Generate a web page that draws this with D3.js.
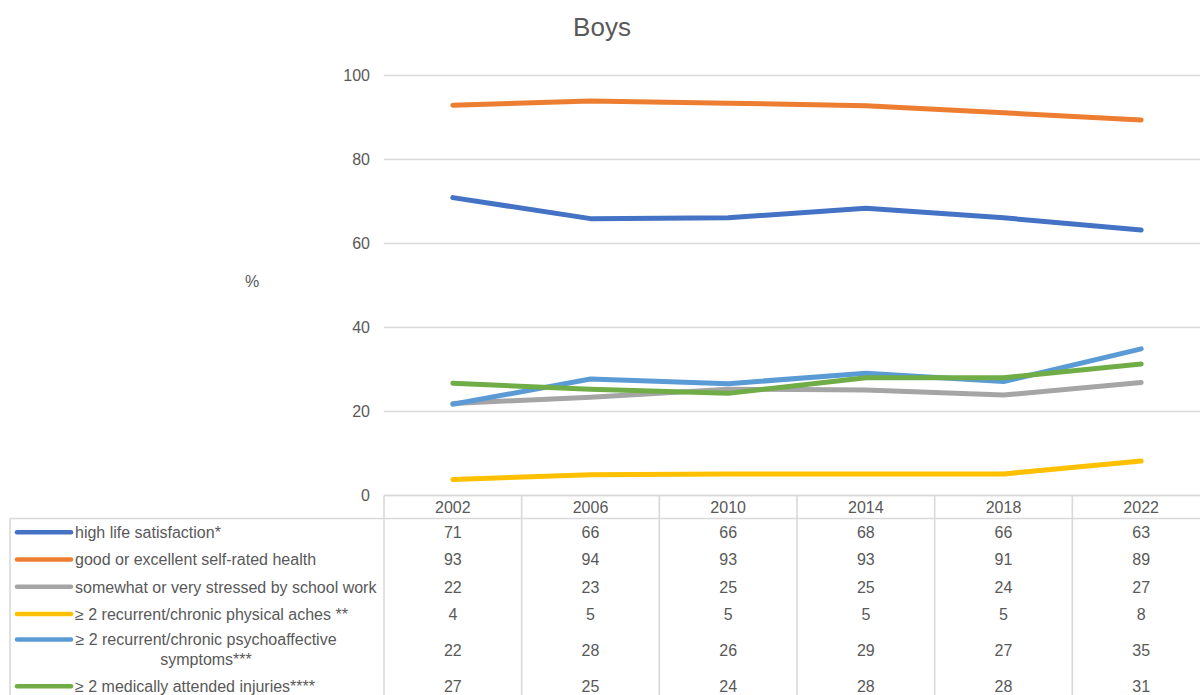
<!DOCTYPE html>
<html>
<head>
<meta charset="utf-8">
<script src="https://cdn.jsdelivr.net/npm/d3@7"></script>
<style>
  html, body { margin: 0; padding: 0; background: #fff; }
  svg { display: block; font-family: "Liberation Sans", Arial, sans-serif; }
</style>
</head>
<body>
<svg id="chart" width="1200" height="695"></svg>
<script>
// ---- data ----
const years = ["2002", "2006", "2010", "2014", "2018", "2022"];
const seriesNames = [
  "high life satisfaction*",
  "good or excellent self-rated health",
  "somewhat or very stressed by school work",
  "≥ 2 recurrent/chronic physical aches **",
  "≥ 2 recurrent/chronic psychoaffective symptoms***",
  "≥ 2 medically attended injuries****"
];
const seriesColors = ["#4472C4", "#ED7D31", "#A5A5A5", "#FFC000", "#5B9BD5", "#70AD47"];
// values as plotted
const lifeSatisfaction   = [70.8, 65.8, 66.0, 68.3, 66.0, 63.1];
const selfRatedHealth    = [92.8, 93.8, 93.3, 92.7, 91.0, 89.3];
const schoolStress       = [21.8, 23.3, 25.2, 25.0, 23.8, 26.8];
const physicalAches      = [3.7, 4.8, 5.0, 5.0, 5.0, 8.1];
const psychoSymptoms     = [21.6, 27.6, 26.5, 29.0, 27.0, 34.8];
const injuries           = [26.6, 25.2, 24.2, 27.9, 27.9, 31.2];
// values as printed in the data table
const tableLife     = [71, 66, 66, 68, 66, 63];
const tableHealth   = [93, 94, 93, 93, 91, 89];
const tableStress   = [22, 23, 25, 25, 24, 27];
const tableAches    = [4, 5, 5, 5, 5, 8];
const tablePsycho   = [22, 28, 26, 29, 27, 35];
const tableInjuries = [27, 25, 24, 28, 28, 31];
const yTicks = [0, 20, 40, 60, 80, 100];
const titleText = "Boys";
const yAxisLabel = "%";
const wrappedLabel = ["≥ 2 recurrent/chronic psychoaffective", "symptoms***"];

const lineValues = [lifeSatisfaction, selfRatedHealth, schoolStress, physicalAches, psychoSymptoms, injuries];
const tableValues = [tableLife, tableHealth, tableStress, tableAches, tablePsycho, tableInjuries];

// ---- layout ----
const svg = d3.select("#chart");
const textColor = "#595959";
const gridColor = "#D9D9D9";
const fs = 16;
const plotLeft = 384, plotRight = 1210, plotTop = 75, plotBottom = 495;

const x = d3.scaleBand().domain(years).range([plotLeft, plotRight]);
const y = d3.scaleLinear().domain([0, 100]).range([plotBottom, plotTop]);
const cx = d => x(d) + x.bandwidth() / 2;

// title
svg.append("text")
  .attr("x", 602).attr("y", 36)
  .attr("text-anchor", "middle")
  .attr("font-size", 26)
  .attr("fill", textColor)
  .text(titleText);

// y axis label
svg.append("text")
  .attr("x", 252).attr("y", 287)
  .attr("text-anchor", "middle")
  .attr("font-size", fs)
  .attr("fill", textColor)
  .text(yAxisLabel);

// gridlines + tick labels via axis
const yAxis = d3.axisLeft(y).tickValues(yTicks).tickSize(-(plotRight - plotLeft)).tickPadding(14).tickFormat(d3.format("d"));
const gAxis = svg.append("g").attr("transform", `translate(${plotLeft},0)`).call(yAxis);
gAxis.select(".domain").remove();
gAxis.selectAll(".tick line").attr("stroke", gridColor).attr("stroke-width", 1.3);
gAxis.selectAll(".tick text")
  .attr("fill", textColor)
  .attr("font-size", fs)
  .attr("font-family", "Liberation Sans, Arial, sans-serif")
  .attr("x", -14);

// lines
const line = d3.line().x((d, i) => cx(years[i])).y(d => y(d));
lineValues.forEach((vals, si) => {
  svg.append("path")
    .datum(vals)
    .attr("d", line)
    .attr("fill", "none")
    .attr("stroke", seriesColors[si])
    .attr("stroke-width", 5)
    .attr("stroke-linecap", "round")
    .attr("stroke-linejoin", "round");
});

// ---- data table ----
const headerTop = 495.5, headerBottom = 518.5;
const tableLeft = 10;
const rowHeights = [27.3, 27.3, 27.3, 27.3, 44.8, 27.3];
const rowTops = [];
let acc = headerBottom;
rowHeights.forEach(h => { rowTops.push(acc); acc += h; });
const tableBottom = acc;
const grid = svg.append("g").attr("stroke", gridColor).attr("stroke-width", 1.6).attr("fill", "none");

grid.append("line").attr("x1", plotLeft).attr("x2", plotRight).attr("y1", headerTop).attr("y2", headerTop);
grid.append("line").attr("x1", tableLeft).attr("x2", plotRight).attr("y1", headerBottom).attr("y2", headerBottom);
grid.append("line").attr("x1", tableLeft).attr("x2", tableLeft).attr("y1", headerBottom).attr("y2", tableBottom);
years.forEach(yr => {
  grid.append("line").attr("x1", x(yr)).attr("x2", x(yr)).attr("y1", headerTop).attr("y2", tableBottom);
});
grid.append("line").attr("x1", plotRight).attr("x2", plotRight).attr("y1", headerTop).attr("y2", tableBottom);

// header labels
svg.append("g").selectAll("text").data(years).join("text")
  .attr("x", d => cx(d)).attr("y", (headerTop + headerBottom) / 2 + 5.8)
  .attr("text-anchor", "middle")
  .attr("font-size", fs)
  .attr("fill", textColor)
  .text(d => d);

// rows
seriesNames.forEach((name, si) => {
  const top = rowTops[si], h = rowHeights[si];
  const mid = top + h / 2;
  const keyY = si === 4 ? mid - 10.5 : mid;
  svg.append("line")
    .attr("x1", 17).attr("x2", 71).attr("y1", keyY).attr("y2", keyY)
    .attr("stroke", seriesColors[si]).attr("stroke-width", 4.5).attr("stroke-linecap", "round");
  if (si === 4) {
    const t = svg.append("text")
      .attr("font-size", fs).attr("fill", textColor).attr("text-anchor", "middle");
    t.append("tspan").attr("x", 206).attr("y", mid - 10.5 + 5.8).text(wrappedLabel[0]);
    t.append("tspan").attr("x", 206).attr("y", mid + 9.5 + 5.8).text(wrappedLabel[1]);
  } else {
    svg.append("text")
      .attr("x", 75).attr("y", mid + 5.8)
      .attr("font-size", fs).attr("fill", textColor)
      .text(name);
  }
  years.forEach((yr, i) => {
    svg.append("text")
      .attr("x", cx(yr)).attr("y", mid + 5.8)
      .attr("text-anchor", "middle")
      .attr("font-size", fs).attr("fill", textColor)
      .text(tableValues[si][i]);
  });
});
</script>
</body>
</html>
